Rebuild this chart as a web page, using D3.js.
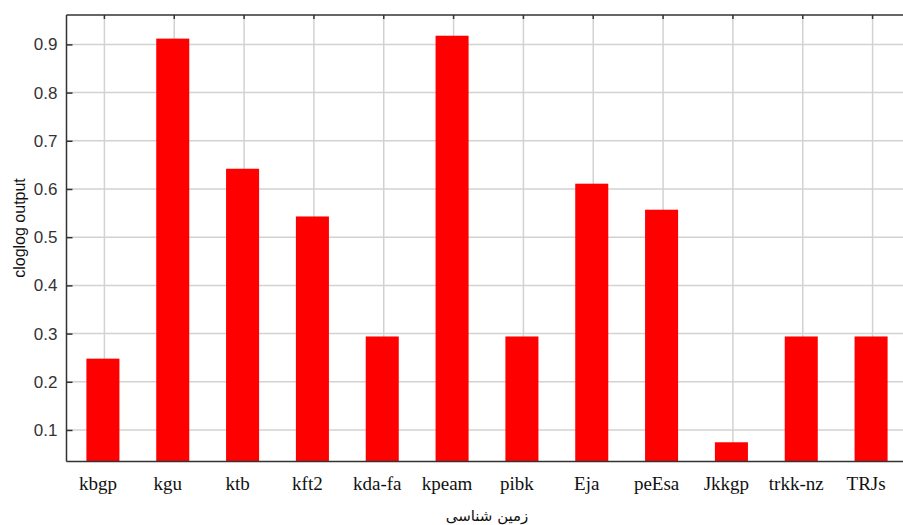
<!DOCTYPE html>
<html><head><meta charset="utf-8">
<script src="https://cdn.jsdelivr.net/npm/d3@7"></script>
<style>body{margin:0;background:#fff}svg{display:block}</style>
</head><body>
<script>
const categories = ["kbgp","kgu","ktb","kft2","kda-fa","kpeam","pibk","Eja","peEsa","Jkkgp","trkk-nz","TRJs"];
const values = [0.248,0.912,0.642,0.543,0.294,0.918,0.294,0.611,0.557,0.0745,0.294,0.294];
const yTicks = [0.1,0.2,0.3,0.4,0.5,0.6,0.7,0.8,0.9];
const yLabel = "cloglog output";
const xLabel = "زمین شناسی";

const W = 903, H = 525;
const L = 66.5, T = 15, B = 461.5;
const svg = d3.select("body").append("svg").attr("width", W).attr("height", H);

const x = d3.scaleBand().domain(categories).range([68, 906]).paddingInner(0.527).paddingOuter(0.2635);
const y = d3.scaleLinear().domain([0.0346, 0.961]).range([B, T]);

// grid
const g = svg.append("g");
g.selectAll(".hg").data(yTicks).join("line")
  .attr("x1", L).attr("x2", W).attr("y1", d => y(d)).attr("y2", d => y(d))
  .attr("stroke", "#d2d2d2").attr("stroke-width", 1.5);
g.selectAll(".vg").data(categories).join("line")
  .attr("x1", d => x(d) + x.bandwidth()/2 + 1.5).attr("x2", d => x(d) + x.bandwidth()/2 + 1.5)
  .attr("y1", T).attr("y2", B)
  .attr("stroke", "#d2d2d2").attr("stroke-width", 1.5);

// bars
svg.append("g").selectAll("rect").data(values).join("rect")
  .attr("x", (d, i) => x(categories[i]))
  .attr("width", x.bandwidth())
  .attr("y", d => y(d))
  .attr("height", d => B - y(d))
  .attr("fill", "#ff0000");

// top axis ticks
svg.append("g").selectAll("line").data(categories).join("line")
  .attr("x1", d => x(d) + x.bandwidth()/2 + 1.5).attr("x2", d => x(d) + x.bandwidth()/2 + 1.5)
  .attr("y1", T).attr("y2", T + 4).attr("stroke", "#333").attr("stroke-width", 1.5);

// left axis
const ya = svg.append("g").attr("transform", `translate(${L},0)`)
  .call(d3.axisLeft(y).tickValues(yTicks).tickSize(-6).tickPadding(9).tickFormat(d3.format(".1f")));
ya.select(".domain").remove();
ya.selectAll(".tick line").attr("stroke", "#333").attr("stroke-width", 1.5);
ya.selectAll(".tick text").attr("font-family", "Liberation Sans, Arial, sans-serif").attr("font-size", 17).attr("fill", "#333");

// frame lines
svg.append("line").attr("x1", L).attr("x2", W).attr("y1", T).attr("y2", T).attr("stroke", "#333").attr("stroke-width", 1.5);
svg.append("line").attr("x1", L).attr("x2", W).attr("y1", B).attr("y2", B).attr("stroke", "#333").attr("stroke-width", 1.5);
svg.append("line").attr("x1", L).attr("x2", L).attr("y1", T).attr("y2", B).attr("stroke", "#333").attr("stroke-width", 1.5);

// x labels
svg.append("g").selectAll("text").data(categories).join("text")
  .attr("x", d => x(d) + x.bandwidth()/2 - 5)
  .attr("y", 490)
  .attr("text-anchor", "middle")
  .attr("font-family", "Liberation Serif, Times New Roman, serif")
  .attr("font-size", 19).attr("fill", "#111")
  .text(d => d);

// y label
svg.append("text")
  .attr("transform", "translate(25,228) rotate(-90)")
  .attr("text-anchor", "middle")
  .attr("font-family", "Liberation Sans, Arial, sans-serif")
  .attr("font-size", 16).attr("fill", "#111")
  .text(yLabel);

// x title
svg.append("text")
  .attr("x", 487).attr("y", 521)
  .attr("text-anchor", "middle")
  .attr("font-family", "DejaVu Sans, Noto Sans, sans-serif")
  .attr("font-size", 15).attr("fill", "#111")
  .attr("direction", "rtl")
  .text(xLabel);
</script>
</body></html>
